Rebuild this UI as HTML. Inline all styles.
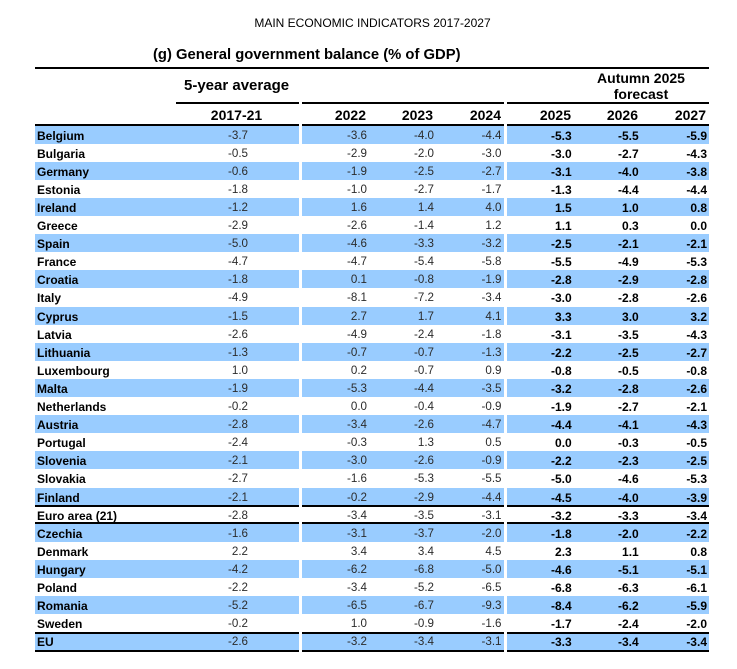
<!DOCTYPE html>
<html>
<head>
<meta charset="utf-8">
<style>
html,body{margin:0;padding:0;background:#fff;}
body{width:737px;height:669px;position:relative;overflow:hidden;font-family:"Liberation Sans",Arial,sans-serif;}
.t{position:absolute;white-space:nowrap;line-height:20px;height:20px;}
.ln{position:absolute;left:0;width:737px;height:2px;
background:linear-gradient(to right,transparent 35px,#000 35px,#000 299px,transparent 299px,transparent 302px,#000 302px,#000 504px,transparent 504px,transparent 507px,#000 507px,#000 709px,transparent 709px);}
.r{position:absolute;left:0;width:737px;height:18.1px;}
.b{background:linear-gradient(to right,transparent 35px,#99ccff 35px,#99ccff 299px,transparent 299px,transparent 302px,#99ccff 302px,#99ccff 504px,transparent 504px,transparent 507px,#99ccff 507px,#99ccff 709px,transparent 709px);}
.r span{position:absolute;top:0;line-height:20px;white-space:nowrap;}
.r .n{left:37px;font-weight:bold;font-size:12px;color:#000;}
.r .h{font-size:11.6px;color:#2b2b2b;text-align:right;}
.r .f{font-size:12px;font-weight:bold;color:#000;text-align:right;}
.c0{right:489px;}.c1{right:370px;}.c2{right:303px;}.c3{right:235.5px;}
.c4{right:165.3px;}.c5{right:98.3px;}.c6{right:30px;}
.hy{position:absolute;top:105px;line-height:20px;font-weight:bold;font-size:14px;color:#000;white-space:nowrap;}
</style>
</head>
<body>
<div class="t" style="left:0;width:745px;text-align:center;top:12.7px;font-size:12px;color:#000;">MAIN ECONOMIC INDICATORS 2017-2027</div>
<div class="t" style="left:153px;top:45px;font-size:14.8px;font-weight:bold;color:#000;">(g) General government balance (% of GDP)</div>
<div style="position:absolute;left:35px;top:66.7px;width:674px;height:2.5px;background:#000;"></div>
<div class="t" style="left:184px;top:76px;font-size:15px;font-weight:bold;color:#000;">5-year average</div>
<div class="t" style="left:581px;width:120px;text-align:center;top:67.7px;font-size:14px;font-weight:bold;color:#000;">Autumn 2025</div>
<div class="t" style="left:581px;width:120px;text-align:center;top:84.3px;font-size:14px;font-weight:bold;color:#000;">forecast</div>
<div style="position:absolute;left:176px;top:101.8px;width:123px;height:2.2px;background:#000;"></div>
<div style="position:absolute;left:302px;top:101.8px;width:202px;height:2.2px;background:#000;"></div>
<div style="position:absolute;left:507px;top:101.8px;width:202px;height:2.2px;background:#000;"></div>

<div class="hy" style="left:186.5px;width:100px;text-align:center;">2017-21</div>
<div class="hy" style="right:371px;">2022</div>
<div class="hy" style="right:304px;">2023</div>
<div class="hy" style="right:236px;">2024</div>
<div class="hy" style="right:166px;">2025</div>
<div class="hy" style="right:99px;">2026</div>
<div class="hy" style="right:31px;">2027</div>

<div class="r b" style="top:125.5px"><span class="n">Belgium</span><span class="h c0">-3.7</span><span class="h c1">-3.6</span><span class="h c2">-4.0</span><span class="h c3">-4.4</span><span class="f c4">-5.3</span><span class="f c5">-5.5</span><span class="f c6">-5.9</span></div>
<div class="r" style="top:143.6px"><span class="n">Bulgaria</span><span class="h c0">-0.5</span><span class="h c1">-2.9</span><span class="h c2">-2.0</span><span class="h c3">-3.0</span><span class="f c4">-3.0</span><span class="f c5">-2.7</span><span class="f c6">-4.3</span></div>
<div class="r b" style="top:161.7px"><span class="n">Germany</span><span class="h c0">-0.6</span><span class="h c1">-1.9</span><span class="h c2">-2.5</span><span class="h c3">-2.7</span><span class="f c4">-3.1</span><span class="f c5">-4.0</span><span class="f c6">-3.8</span></div>
<div class="r" style="top:179.8px"><span class="n">Estonia</span><span class="h c0">-1.8</span><span class="h c1">-1.0</span><span class="h c2">-2.7</span><span class="h c3">-1.7</span><span class="f c4">-1.3</span><span class="f c5">-4.4</span><span class="f c6">-4.4</span></div>
<div class="r b" style="top:197.9px"><span class="n">Ireland</span><span class="h c0">-1.2</span><span class="h c1">1.6</span><span class="h c2">1.4</span><span class="h c3">4.0</span><span class="f c4">1.5</span><span class="f c5">1.0</span><span class="f c6">0.8</span></div>
<div class="r" style="top:216.0px"><span class="n">Greece</span><span class="h c0">-2.9</span><span class="h c1">-2.6</span><span class="h c2">-1.4</span><span class="h c3">1.2</span><span class="f c4">1.1</span><span class="f c5">0.3</span><span class="f c6">0.0</span></div>
<div class="r b" style="top:234.1px"><span class="n">Spain</span><span class="h c0">-5.0</span><span class="h c1">-4.6</span><span class="h c2">-3.3</span><span class="h c3">-3.2</span><span class="f c4">-2.5</span><span class="f c5">-2.1</span><span class="f c6">-2.1</span></div>
<div class="r" style="top:252.2px"><span class="n">France</span><span class="h c0">-4.7</span><span class="h c1">-4.7</span><span class="h c2">-5.4</span><span class="h c3">-5.8</span><span class="f c4">-5.5</span><span class="f c5">-4.9</span><span class="f c6">-5.3</span></div>
<div class="r b" style="top:270.3px"><span class="n">Croatia</span><span class="h c0">-1.8</span><span class="h c1">0.1</span><span class="h c2">-0.8</span><span class="h c3">-1.9</span><span class="f c4">-2.8</span><span class="f c5">-2.9</span><span class="f c6">-2.8</span></div>
<div class="r" style="top:288.4px"><span class="n">Italy</span><span class="h c0">-4.9</span><span class="h c1">-8.1</span><span class="h c2">-7.2</span><span class="h c3">-3.4</span><span class="f c4">-3.0</span><span class="f c5">-2.8</span><span class="f c6">-2.6</span></div>
<div class="r b" style="top:306.5px"><span class="n">Cyprus</span><span class="h c0">-1.5</span><span class="h c1">2.7</span><span class="h c2">1.7</span><span class="h c3">4.1</span><span class="f c4">3.3</span><span class="f c5">3.0</span><span class="f c6">3.2</span></div>
<div class="r" style="top:324.6px"><span class="n">Latvia</span><span class="h c0">-2.6</span><span class="h c1">-4.9</span><span class="h c2">-2.4</span><span class="h c3">-1.8</span><span class="f c4">-3.1</span><span class="f c5">-3.5</span><span class="f c6">-4.3</span></div>
<div class="r b" style="top:342.7px"><span class="n">Lithuania</span><span class="h c0">-1.3</span><span class="h c1">-0.7</span><span class="h c2">-0.7</span><span class="h c3">-1.3</span><span class="f c4">-2.2</span><span class="f c5">-2.5</span><span class="f c6">-2.7</span></div>
<div class="r" style="top:360.8px"><span class="n">Luxembourg</span><span class="h c0">1.0</span><span class="h c1">0.2</span><span class="h c2">-0.7</span><span class="h c3">0.9</span><span class="f c4">-0.8</span><span class="f c5">-0.5</span><span class="f c6">-0.8</span></div>
<div class="r b" style="top:378.9px"><span class="n">Malta</span><span class="h c0">-1.9</span><span class="h c1">-5.3</span><span class="h c2">-4.4</span><span class="h c3">-3.5</span><span class="f c4">-3.2</span><span class="f c5">-2.8</span><span class="f c6">-2.6</span></div>
<div class="r" style="top:397.0px"><span class="n">Netherlands</span><span class="h c0">-0.2</span><span class="h c1">0.0</span><span class="h c2">-0.4</span><span class="h c3">-0.9</span><span class="f c4">-1.9</span><span class="f c5">-2.7</span><span class="f c6">-2.1</span></div>
<div class="r b" style="top:415.1px"><span class="n">Austria</span><span class="h c0">-2.8</span><span class="h c1">-3.4</span><span class="h c2">-2.6</span><span class="h c3">-4.7</span><span class="f c4">-4.4</span><span class="f c5">-4.1</span><span class="f c6">-4.3</span></div>
<div class="r" style="top:433.2px"><span class="n">Portugal</span><span class="h c0">-2.4</span><span class="h c1">-0.3</span><span class="h c2">1.3</span><span class="h c3">0.5</span><span class="f c4">0.0</span><span class="f c5">-0.3</span><span class="f c6">-0.5</span></div>
<div class="r b" style="top:451.3px"><span class="n">Slovenia</span><span class="h c0">-2.1</span><span class="h c1">-3.0</span><span class="h c2">-2.6</span><span class="h c3">-0.9</span><span class="f c4">-2.2</span><span class="f c5">-2.3</span><span class="f c6">-2.5</span></div>
<div class="r" style="top:469.4px"><span class="n">Slovakia</span><span class="h c0">-2.7</span><span class="h c1">-1.6</span><span class="h c2">-5.3</span><span class="h c3">-5.5</span><span class="f c4">-5.0</span><span class="f c5">-4.6</span><span class="f c6">-5.3</span></div>
<div class="r b" style="top:487.5px"><span class="n">Finland</span><span class="h c0">-2.1</span><span class="h c1">-0.2</span><span class="h c2">-2.9</span><span class="h c3">-4.4</span><span class="f c4">-4.5</span><span class="f c5">-4.0</span><span class="f c6">-3.9</span></div>
<div class="r" style="top:505.6px"><span class="n">Euro area (21)</span><span class="h c0">-2.8</span><span class="h c1">-3.4</span><span class="h c2">-3.5</span><span class="h c3">-3.1</span><span class="f c4">-3.2</span><span class="f c5">-3.3</span><span class="f c6">-3.4</span></div>
<div class="r b" style="top:523.7px"><span class="n">Czechia</span><span class="h c0">-1.6</span><span class="h c1">-3.1</span><span class="h c2">-3.7</span><span class="h c3">-2.0</span><span class="f c4">-1.8</span><span class="f c5">-2.0</span><span class="f c6">-2.2</span></div>
<div class="r" style="top:541.8px"><span class="n">Denmark</span><span class="h c0">2.2</span><span class="h c1">3.4</span><span class="h c2">3.4</span><span class="h c3">4.5</span><span class="f c4">2.3</span><span class="f c5">1.1</span><span class="f c6">0.8</span></div>
<div class="r b" style="top:559.9px"><span class="n">Hungary</span><span class="h c0">-4.2</span><span class="h c1">-6.2</span><span class="h c2">-6.8</span><span class="h c3">-5.0</span><span class="f c4">-4.6</span><span class="f c5">-5.1</span><span class="f c6">-5.1</span></div>
<div class="r" style="top:578.0px"><span class="n">Poland</span><span class="h c0">-2.2</span><span class="h c1">-3.4</span><span class="h c2">-5.2</span><span class="h c3">-6.5</span><span class="f c4">-6.8</span><span class="f c5">-6.3</span><span class="f c6">-6.1</span></div>
<div class="r b" style="top:596.1px"><span class="n">Romania</span><span class="h c0">-5.2</span><span class="h c1">-6.5</span><span class="h c2">-6.7</span><span class="h c3">-9.3</span><span class="f c4">-8.4</span><span class="f c5">-6.2</span><span class="f c6">-5.9</span></div>
<div class="r" style="top:614.2px"><span class="n">Sweden</span><span class="h c0">-0.2</span><span class="h c1">1.0</span><span class="h c2">-0.9</span><span class="h c3">-1.6</span><span class="f c4">-1.7</span><span class="f c5">-2.4</span><span class="f c6">-2.0</span></div>
<div class="r b" style="top:632.3px;height:18.1px"><span class="n">EU</span><span class="h c0">-2.6</span><span class="h c1">-3.2</span><span class="h c2">-3.4</span><span class="h c3">-3.1</span><span class="f c4">-3.3</span><span class="f c5">-3.4</span><span class="f c6">-3.4</span></div>

<div class="ln" style="top:123.5px"></div>
<div class="ln" style="top:505.3px"></div>
<div class="ln" style="top:522.4px"></div>
<div class="ln" style="top:631.7px"></div>
<div class="ln" style="top:650px;height:2.2px"></div>
</body>
</html>
